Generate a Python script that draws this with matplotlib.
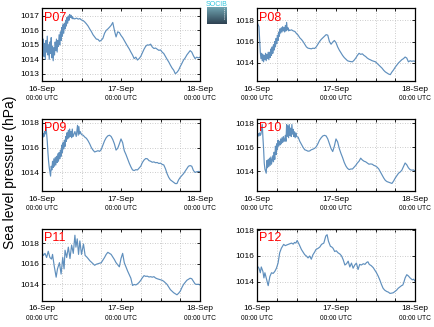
import matplotlib
matplotlib.use("Agg")
import matplotlib.pyplot as plt
import matplotlib.transforms as mtransforms
from matplotlib.colors import LinearSegmentedColormap
import numpy as np

plt.rcParams['font.family'] = ['Liberation Sans', 'DejaVu Sans']

# ---------------- data (hours since 16-Sep 00:00 UTC, hPa) ----------------
p07_h = [0.0, 0.2, 0.4, 0.6, 0.8, 1.0, 1.2, 1.4, 1.6, 1.8, 2.0, 2.2, 2.4, 2.6, 2.8, 3.0, 3.2, 3.4, 3.6, 3.8,
         4.0, 4.2, 4.4, 4.6, 4.8, 5.0, 5.2, 5.4, 5.6, 5.8, 6.0, 6.2, 6.4, 6.6, 6.8, 7.0, 7.2, 7.4, 7.6, 7.8,
         8.0, 8.2, 8.4, 8.6, 8.8, 9.0, 9.2, 9.4, 9.6, 9.8,
         10.0, 10.5, 11.0, 11.5, 12.0, 12.5, 13.0, 13.5, 14.0, 14.5, 15.0, 15.5, 16.0, 16.5, 17.0, 17.5,
         18.0, 18.5, 19.0, 19.5, 20.0, 20.5, 21.0, 21.5, 22.0, 22.5, 23.0, 23.5, 24.0, 24.5, 25.0, 25.5,
         26.0, 26.5, 27.0, 27.5, 28.0, 28.5, 29.0, 29.5, 30.0, 30.5, 31.0, 31.5, 32.0, 32.5, 33.0, 33.5,
         34.0, 34.5, 35.0, 35.5, 36.0, 36.5, 37.0, 37.5, 38.0, 38.5, 39.0, 39.5, 40.0, 40.5, 41.0, 41.5,
         42.0, 42.5, 43.0, 43.5, 44.0, 44.5, 45.0, 45.5, 46.0, 46.5, 47.0, 47.5, 48.0]
p07_v = [1016.0, 1014.6, 1015.4, 1014.2, 1015.1, 1014.0, 1015.3, 1014.5, 1015.6, 1014.3, 1015.0, 1014.0,
         1015.2, 1014.4, 1015.5, 1014.1, 1014.9, 1013.9, 1014.8, 1014.3, 1015.2, 1014.6, 1015.4, 1014.5,
         1015.3, 1014.9, 1015.7, 1015.0, 1015.9, 1015.3, 1016.2, 1015.6, 1016.4, 1015.8, 1016.5, 1016.1,
         1016.7, 1016.3, 1016.9, 1016.5, 1017.0, 1016.7, 1017.1, 1016.9, 1017.05, 1016.85, 1016.95, 1016.8,
         1016.85, 1016.8,
         1016.8, 1016.85, 1016.78, 1016.82, 1016.72, 1016.68, 1016.58, 1016.45, 1016.3, 1016.1, 1015.92,
         1015.7, 1015.55, 1015.4, 1015.38, 1015.25, 1015.32, 1015.45, 1015.8, 1016.0, 1016.1, 1016.22,
         1016.35, 1016.55, 1016.0, 1015.55, 1015.9, 1015.85, 1015.65, 1015.5, 1015.3, 1015.1, 1014.9,
         1014.72, 1014.5, 1014.3, 1014.05, 1014.15, 1013.95, 1014.05, 1014.2, 1014.45, 1014.7, 1014.9,
         1015.0, 1014.98, 1015.05, 1014.85, 1014.75, 1014.78, 1014.7, 1014.62, 1014.65, 1014.5, 1014.4,
         1014.2, 1014.0, 1013.82, 1013.6, 1013.4, 1013.25, 1013.0, 1013.1, 1013.25, 1013.5, 1013.72,
         1013.95, 1014.1, 1014.3, 1014.45, 1014.6, 1014.5, 1014.25, 1014.05, 1014.15, 1014.1, 1014.15]

p08_h = [0.0, 0.3, 0.6, 0.8, 1.0, 1.2, 1.4, 1.6, 1.8, 2.0, 2.2, 2.4, 2.6, 2.8, 3.0, 3.2, 3.4, 3.6, 3.8,
         4.0, 4.2, 4.4, 4.6, 4.8, 5.0, 5.2, 5.4, 5.6, 5.8, 6.0, 6.2, 6.4, 6.6, 6.8, 7.0, 7.2, 7.4, 7.6, 7.8,
         8.0, 8.2, 8.4, 8.6, 8.8, 9.0, 9.2, 9.4, 9.6, 9.8,
         10.0, 10.5, 11.0, 11.5, 12.0, 12.5, 13.0, 13.5, 14.0, 14.5, 15.0, 15.5, 16.0, 16.5, 17.0, 17.5,
         18.0, 18.5, 19.0, 19.5, 20.0, 20.5, 21.0, 21.5, 22.0, 22.5, 23.0, 23.5, 24.0, 24.5, 25.0, 25.5,
         26.0, 26.5, 27.0, 27.5, 28.0, 28.5, 29.0, 29.5, 30.0, 30.5, 31.0, 31.5, 32.0, 32.5, 33.0, 33.5,
         34.0, 34.5, 35.0, 35.5, 36.0, 36.5, 37.0, 37.5, 38.0, 38.5, 39.0, 39.5, 40.0, 40.5, 41.0, 41.5,
         42.0, 42.5, 43.0, 43.5, 44.0, 44.5, 45.0, 45.5, 46.0, 46.5, 47.0, 47.5, 48.0]
p08_v = [1017.85, 1017.6, 1017.4, 1016.2, 1015.0, 1014.4, 1014.9, 1014.2, 1014.8, 1014.1, 1014.7, 1014.3,
         1014.9, 1014.2, 1014.8, 1014.4, 1015.0, 1014.3, 1015.0, 1014.5, 1015.3, 1014.7, 1015.5, 1014.9,
         1015.7, 1015.2, 1016.0, 1015.5, 1016.3, 1015.8, 1016.6, 1016.1, 1016.9, 1016.5, 1017.2, 1016.8,
         1017.3, 1016.9, 1017.4, 1017.0, 1017.3, 1016.9, 1017.5, 1017.0, 1017.8, 1017.1, 1017.3, 1017.0,
         1017.1,
         1017.05, 1017.1, 1017.0, 1016.95, 1016.75, 1016.6, 1016.35, 1016.2, 1016.0, 1015.75, 1015.5,
         1015.38, 1015.35, 1015.32, 1015.38, 1015.35, 1015.5, 1015.75, 1016.0, 1016.2, 1016.35, 1016.5,
         1016.65, 1016.6, 1016.0, 1015.75, 1015.95, 1016.1, 1015.9, 1015.5, 1015.2, 1014.95, 1014.7,
         1014.5, 1014.35, 1014.2, 1014.15, 1014.12, 1014.1, 1014.25, 1014.45, 1014.7, 1014.9, 1014.8,
         1014.85, 1014.7, 1014.6, 1014.45, 1014.35, 1014.28, 1014.2, 1014.15, 1014.1, 1013.95, 1013.8,
         1013.65, 1013.5, 1013.3, 1013.15, 1013.05, 1012.95, 1012.9, 1013.15, 1013.35, 1013.6, 1013.8,
         1014.0, 1014.15, 1014.3, 1014.4, 1014.55, 1014.45, 1014.1, 1014.2, 1014.15, 1014.18, 1014.15]

p09_h = [0.0, 0.2, 0.4, 0.6, 0.8, 1.0, 1.2, 1.4, 1.6, 1.8, 2.0, 2.2, 2.6, 2.8, 3.0, 3.2, 3.4, 3.6, 3.8,
         4.0, 4.2, 4.4, 4.6, 4.8, 5.0, 5.2, 5.4, 5.6, 5.8, 6.0, 6.2, 6.4, 6.6, 6.8, 7.0, 7.2, 7.4, 7.6, 7.8,
         8.0, 8.2, 8.4, 8.6, 8.8, 9.0, 9.2, 9.4, 9.6, 10.0, 10.4, 10.8, 11.0, 11.2, 11.4, 11.6,
         12.0, 12.5, 13.0, 13.5, 14.0, 14.5, 15.0, 15.5, 16.0, 16.5, 17.0, 17.5,
         18.0, 18.5, 19.0, 19.5, 20.0, 20.5, 21.0, 21.5, 22.0, 22.5, 23.0, 23.5, 24.0, 24.5, 25.0, 25.5,
         26.0, 26.5, 27.0, 27.5, 28.0, 28.5, 29.0, 29.5, 30.0, 30.5, 31.0, 31.5, 32.0, 32.5, 33.0, 33.5,
         34.0, 34.5, 35.0, 35.5, 36.0, 36.5, 37.0, 37.5, 38.0, 38.5, 39.0, 39.5, 40.0, 40.5, 41.0, 41.5,
         42.0, 42.5, 43.0, 43.5, 44.0, 44.5, 45.0, 45.5, 46.0, 46.5, 47.0, 47.5, 48.0]
p09_v = [1017.0, 1016.8, 1017.15, 1016.9, 1017.3, 1017.1, 1017.8, 1017.2, 1016.5, 1015.6, 1014.9, 1014.4,
         1013.7, 1014.5, 1014.2, 1014.9, 1014.4, 1015.1, 1014.5, 1015.2, 1014.6, 1015.3, 1014.8, 1015.5,
         1014.9, 1015.6, 1015.1, 1015.8, 1015.3, 1016.2, 1015.6, 1016.4, 1015.9, 1016.6, 1016.1, 1016.9,
         1016.5, 1017.2, 1016.7, 1017.4, 1016.8, 1017.5, 1016.9, 1017.3, 1016.8, 1017.5, 1016.9, 1017.0,
         1017.3, 1016.9, 1017.8, 1017.0, 1017.7, 1017.1, 1017.3,
         1017.05, 1017.0, 1016.85, 1016.75, 1016.55, 1016.3, 1016.0, 1015.8, 1015.65, 1015.7, 1015.75,
         1015.7, 1015.85, 1016.2, 1016.55, 1016.8, 1016.95, 1017.0, 1016.9, 1016.65, 1016.3, 1015.8,
         1015.95, 1016.3, 1016.7, 1016.4, 1015.75, 1015.45, 1015.1, 1014.75, 1014.45, 1014.2, 1014.15,
         1014.22, 1014.2, 1014.35, 1014.5, 1014.8, 1015.0, 1015.12, 1015.1, 1014.95, 1014.9, 1014.82,
         1014.85, 1014.78, 1014.8, 1014.72, 1014.75, 1014.65, 1014.6, 1014.3, 1013.9, 1013.6, 1013.4,
         1013.3, 1013.2, 1013.1, 1013.1, 1013.4, 1013.6, 1013.75, 1013.9, 1014.1, 1014.3, 1014.5, 1014.55,
         1014.5, 1014.15, 1014.0, 1014.05, 1014.08, 1014.05]

p10_h = [0.0, 0.2, 0.4, 0.6, 0.8, 1.0, 1.2, 1.6, 1.8, 2.0, 2.2, 2.4, 2.8, 3.0, 3.2, 3.4, 3.6, 3.8, 4.0,
         4.2, 4.4, 4.8, 5.0, 5.2, 5.4, 5.6, 5.8, 6.0, 6.2, 6.4, 6.6, 6.8, 7.0, 7.2, 7.4, 7.6, 7.8, 8.0, 8.2,
         8.4, 8.6, 8.8, 9.0, 9.2, 9.4, 9.6, 9.8, 10.0, 10.2, 10.4, 10.6, 10.8, 11.0, 11.2, 11.4, 11.6, 11.8,
         12.0, 12.5, 13.0, 13.5, 14.0, 14.5, 15.0, 15.5, 16.0, 16.5, 17.0, 17.5,
         18.0, 18.5, 19.0, 19.5, 20.0, 20.5, 21.0, 21.5, 22.0, 22.5, 23.0, 23.5, 24.0, 24.5, 25.0, 25.5,
         26.0, 26.5, 27.0, 27.5, 28.0, 28.5, 29.0, 29.5, 30.0, 30.5, 31.0, 31.5, 32.0, 32.5, 33.0, 33.5,
         34.0, 34.5, 35.0, 35.5, 36.0, 36.5, 37.0, 37.5, 38.0, 38.5, 39.0, 39.5, 40.0, 40.5, 41.0, 41.5,
         42.0, 42.5, 43.0, 43.5, 44.0, 44.5, 45.0, 45.5, 46.0, 46.5, 47.0, 47.5, 48.0]
p10_v = [1017.1, 1016.9, 1017.15, 1016.95, 1017.2, 1017.0, 1017.1, 1017.9, 1016.8, 1015.9, 1014.7,
         1014.2, 1013.85, 1014.9, 1014.3, 1015.0, 1014.4, 1015.1, 1014.5, 1015.2, 1014.6, 1015.3, 1014.8,
         1015.6, 1015.0, 1016.1, 1015.4, 1016.3, 1015.8, 1016.6, 1016.1, 1016.5, 1016.2, 1016.7, 1016.3,
         1016.8, 1016.4, 1016.9, 1016.5, 1016.6, 1017.0, 1016.5, 1017.9, 1016.9, 1017.8, 1016.8, 1017.9,
         1017.0, 1017.6, 1016.9, 1017.9, 1017.1, 1017.5, 1016.9, 1017.3, 1016.8, 1017.2,
         1016.9, 1016.85, 1016.5, 1016.25, 1016.0, 1015.8, 1015.75, 1015.68, 1015.7, 1015.8, 1015.85,
         1015.92, 1016.05, 1016.3, 1016.6, 1016.8, 1016.95, 1017.0, 1016.95, 1016.7, 1016.3, 1015.9,
         1015.65, 1016.1, 1016.7, 1016.45, 1015.9, 1015.5, 1015.15, 1014.75, 1014.45, 1014.25, 1014.15,
         1014.2, 1014.2, 1014.35, 1014.5, 1014.7, 1014.85, 1015.1, 1014.95, 1014.85, 1014.8, 1014.7,
         1014.6, 1014.62, 1014.6, 1014.5, 1014.45, 1014.35, 1014.2, 1013.95, 1013.7, 1013.45, 1013.25,
         1013.15, 1013.1, 1013.05, 1013.0, 1013.2, 1013.45, 1013.65, 1013.85, 1013.95, 1014.1, 1014.4,
         1014.7, 1014.55, 1014.3, 1014.15, 1014.1, 1014.12, 1014.05]

p11_h = [0.0, 0.4, 0.9, 1.4, 1.9, 2.4, 2.9, 3.2, 3.7, 4.3, 4.7, 5.3, 5.8, 6.3, 6.7, 7.0, 7.5, 8.0, 8.5,
         9.0, 9.5, 10.0, 10.3, 10.7, 11.1, 11.5, 12.0, 12.6, 13.1, 13.6,
         14.0, 14.5, 15.0, 15.5, 16.0, 16.5, 17.0, 17.5,
         18.0, 18.5, 19.0, 19.5, 20.0, 20.5, 21.0, 21.5, 22.0, 22.5, 23.0, 23.5, 24.0, 24.5, 25.0, 25.5,
         26.0, 26.5, 27.0, 27.5, 28.0, 28.5, 29.0, 29.5, 30.0, 30.5, 31.0, 31.5, 32.0, 32.5, 33.0, 33.5,
         34.0, 34.5, 35.0, 35.5, 36.0, 36.5, 37.0, 37.5, 38.0, 38.5, 39.0, 39.5, 40.0, 40.5, 41.0, 41.5,
         42.0, 42.5, 43.0, 43.5, 44.0, 44.5, 45.0, 45.5, 46.0, 46.5, 47.0, 47.5, 48.0]
p11_v = [1017.15, 1016.8, 1017.0, 1016.6, 1017.2, 1016.6, 1016.45, 1016.9, 1015.8, 1014.7, 1015.5,
         1016.1, 1015.0, 1016.6, 1015.5, 1017.3, 1016.6, 1017.6, 1016.5, 1017.8, 1017.0, 1018.75, 1017.6,
         1018.4, 1016.9, 1018.2, 1016.9, 1017.9, 1016.8, 1016.65,
         1016.5, 1016.3, 1016.15, 1016.0, 1015.85, 1015.95, 1016.0, 1016.05, 1016.1, 1016.35, 1016.6,
         1016.9, 1017.1, 1017.0, 1016.9, 1016.65, 1016.4, 1016.1, 1015.9, 1015.7, 1016.5, 1017.0, 1016.1,
         1015.7, 1015.3, 1014.95, 1014.6, 1013.9, 1014.0, 1013.95, 1014.05, 1014.2, 1014.4, 1014.65,
         1014.85, 1014.78, 1014.8, 1014.72, 1014.75, 1014.7, 1014.75, 1014.62, 1014.55, 1014.5, 1014.45,
         1014.4, 1014.3, 1014.15, 1014.0, 1013.75, 1013.5, 1013.35, 1013.2, 1013.1, 1013.0, 1013.15,
         1013.35, 1013.7, 1014.0, 1014.2, 1014.4, 1014.5, 1014.6, 1014.55, 1014.3, 1014.05, 1014.0,
         1014.02, 1013.95]

p12_h = [0.0, 0.6, 1.0, 1.3, 1.8, 2.1, 2.4, 2.9, 3.4, 3.9, 4.4, 4.9, 5.4, 5.9, 6.4, 6.9, 7.4, 8.1, 8.6,
         9.0, 9.5, 10.0, 10.5, 11.0, 11.4, 11.8, 12.2, 12.8, 13.5, 14.0, 14.5, 15.0, 15.5, 16.0, 16.5,
         17.0, 17.5, 17.9, 18.6, 19.1, 19.6, 20.3, 20.9, 21.3, 21.7, 22.3, 22.7, 23.1, 23.6, 24.1, 24.6,
         25.2, 25.7, 26.2, 26.7, 27.2, 27.7, 28.2, 28.7, 29.2, 29.7, 30.2, 30.7, 31.2, 31.7, 32.3, 32.8,
         33.3, 33.7, 34.1, 34.7, 35.3, 35.8, 36.3, 36.8, 37.3, 37.8, 38.3, 38.8, 39.4, 39.9, 40.4, 40.9,
         41.4, 41.9, 42.4, 42.9, 43.4, 43.9, 44.3, 44.6, 45.0, 45.5, 46.0, 46.5, 47.2, 47.6, 48.0]
p12_v = [1015.25, 1015.05, 1014.7, 1015.15, 1014.8, 1014.3, 1014.7, 1014.2, 1013.7, 1014.4, 1014.7,
         1014.65, 1014.8, 1015.05, 1015.45, 1016.25, 1016.6, 1016.9, 1016.8, 1016.85, 1016.9, 1016.95,
         1017.0, 1016.92, 1017.05, 1017.0, 1017.2, 1016.9, 1016.5, 1016.3, 1016.1, 1016.0, 1015.85,
         1016.0, 1015.75, 1016.1, 1016.3, 1016.5, 1016.6, 1016.7, 1016.9, 1017.0, 1017.55, 1017.65,
         1017.15, 1016.75, 1016.7, 1016.6, 1016.35, 1016.4, 1016.25, 1016.15, 1016.0, 1015.7, 1015.3,
         1015.4, 1015.6, 1015.15, 1015.45, 1015.05, 1015.3, 1015.45, 1014.95, 1015.35, 1015.3, 1015.4,
         1015.35, 1015.5, 1015.55, 1015.35, 1015.25, 1015.1, 1014.9, 1014.7, 1014.45, 1014.15, 1013.8,
         1013.5, 1013.35, 1013.25, 1013.2, 1013.1, 1013.12, 1013.15, 1013.25, 1013.35, 1013.5, 1013.6,
         1013.7, 1013.75, 1013.95, 1014.3, 1014.55, 1014.45, 1014.3, 1014.15, 1014.2, 1014.05]

station_names = ['P07', 'P08', 'P09', 'P10', 'P11', 'P12']
series_hours = [p07_h, p08_h, p09_h, p10_h, p11_h, p12_h]
series_values = [p07_v, p08_v, p09_v, p10_v, p11_v, p12_v]
y_limits = [(1012.5, 1017.55), (1012.3, 1019.15), (1012.5, 1018.35),
            (1012.37, 1018.4), (1012.45, 1019.4), (1012.55, 1018.13)]
y_ticks = [[1013, 1014, 1015, 1016, 1017], [1014, 1016, 1018], [1014, 1016, 1018],
           [1014, 1016, 1018], [1014, 1016, 1018], [1014, 1016, 1018]]
x_tick_hours = [0, 24, 48]
x_tick_dates = ['16-Sep', '17-Sep', '18-Sep']
x_tick_times = ['00:00 UTC', '00:00 UTC', '00:00 UTC']

# ---------------- layout ----------------
W, H = 434, 327
fig = plt.figure(figsize=(W / 100, H / 100), dpi=100)

col_left = [42, 257]
rows = [(8, 81), (118.5, 191), (228.5, 300.5)]
axw = 158

line_color = '#5f8fbd'

for i, name in enumerate(station_names):
    r, c = divmod(i, 2)
    top, bot = rows[r]
    ax = fig.add_axes([col_left[c] / W, 1 - bot / H, axw / W, (bot - top) / H])
    ax.plot(series_hours[i], series_values[i], color=line_color, lw=0.85)
    ax.set_xlim(0, 48)
    ax.set_ylim(*y_limits[i])
    ax.set_yticks(y_ticks[i])
    ax.set_yticklabels([str(t) for t in y_ticks[i]], fontsize=6)
    ax.set_xticks(x_tick_hours)
    ax.set_xticks(np.arange(0, 49, 6), minor=True)
    ax.set_xticklabels([])
    ax.tick_params(axis='both', which='both', direction='in', length=2.5, width=0.6,
                   top=True, right=True, pad=2)
    ax.grid(True, which='minor', axis='x', color='#bbbbbb', linestyle=(0, (1, 2)), lw=0.6)
    ax.grid(True, which='major', axis='y', color='#bbbbbb', linestyle=(0, (1, 2)), lw=0.6)
    for s in ax.spines.values():
        s.set_linewidth(0.9)
    trans = mtransforms.blended_transform_factory(ax.transData, ax.transAxes)
    hgt = bot - top
    for xh, d, t in zip(x_tick_hours, x_tick_dates, x_tick_times):
        ax.text(xh, -8.5 / hgt, d, transform=trans, ha='center', va='center', fontsize=6, clip_on=False)
        ax.text(xh, -17.5 / hgt, t, transform=trans, ha='center', va='center', fontsize=4.8, clip_on=False)
    ax.text(0.012, 0.95, name, transform=ax.transAxes, ha='left', va='top', color='red', fontsize=9)

fig.text(10 / W, 1 - 172 / H, 'Sea level pressure (hPa)', rotation=90, ha='center', va='center', fontsize=10)

# logo
lax = fig.add_axes([207 / W, 1 - 24 / H, 20 / W, 17 / H])
grad = np.linspace(0, 1, 50).reshape(-1, 1)
cm = LinearSegmentedColormap.from_list('lg', ['#6fa3b0', '#2e4252'])
lax.imshow(grad, aspect='auto', cmap=cm, extent=(0, 1, 0, 1), origin='upper')
lax.plot([0.85, 0.85], [0.3, 0.95], color='white', lw=0.6, linestyle=(0, (1, 1.5)))
lax.set_xlim(0, 1)
lax.set_ylim(0, 1)
lax.axis('off')
fig.text(217 / W, 1 - 4 / H, 'SOCIB', ha='center', va='center', fontsize=5, color='#33c6dd')

fig.savefig('out.png', dpi=100)
